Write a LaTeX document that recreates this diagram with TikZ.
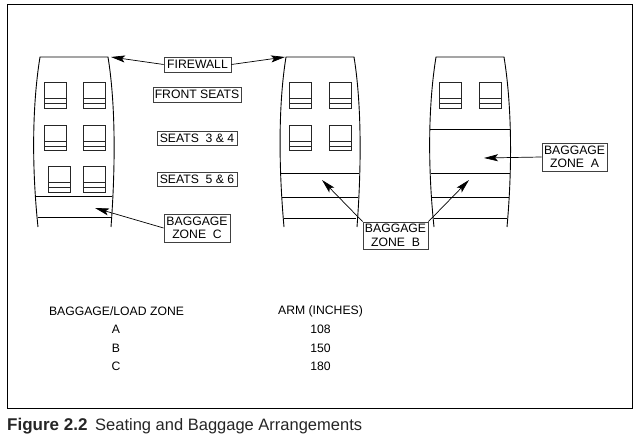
\documentclass[tikz,border=0pt]{standalone}
\usepackage{fontspec}
\setmainfont{Liberation Sans}
\usepackage{tikz}
\usetikzlibrary{arrows.meta}

\tikzset{
	label box/.style={draw=black!75, fill=white, line width=0.9pt, inner sep=0pt, align=center,
		font=\fontsize{12.2}{13.6}\selectfont},
	plain text/.style={inner sep=0pt, font=\fontsize{12.2}{14}\selectfont},
	caption text/.style={inner sep=0pt, anchor=base west, text=black!85},
	hull/.style={line width=0.9pt},
	seat/.style={line width=0.9pt, black!85},
	pointer/.style={line width=0.7pt, -{Stealth[length=14pt,width=7pt,inset=3pt]}}
}

\begin{document}
\begin{tikzpicture}[x=1pt,y=-1pt]
		\useasboundingbox (0,0) rectangle (639,438);
		\fill[white] (0,0) rectangle (639,438);

		% Outer frame.
		\draw[line width=1pt] (7,5) rectangle (632,408);

		% Left cabin.
		\draw[hull]	(38,227) .. controls (31,160) and (33,100) .. (40,57)
				-- (108,57) .. controls (115,100) and (116,160) .. (111,227);
		\draw[hull]	(36,196) -- (112,196)
				(38,217) -- (111,217);
		\draw[seat]	(44,82) rectangle (66,108) (44,98) -- (66,98) (44,103) -- (66,103)
				(83,82) rectangle (105,108) (83,98) -- (105,98) (83,103) -- (105,103)
				(44,125) rectangle (66,150) (44,141) -- (66,141) (44,146) -- (66,146)
				(83,125) rectangle (105,150) (83,141) -- (105,141) (83,146) -- (105,146)
				(48,166) rectangle (70,192) (48,182) -- (70,182) (48,187) -- (70,187)
				(83,166) rectangle (105,192) (83,182) -- (105,182) (83,187) -- (105,187);

		% Middle cabin.
		\draw[hull]	(284,227) .. controls (278,160) and (279,100) .. (286,57)
				-- (354,57) .. controls (361,100) and (362,160) .. (357,227);
		\draw[hull]	(281,173) -- (359,173)
				(282,197) -- (358,197)
				(284,218) -- (356,218);
		\draw[seat]	(289,82) rectangle (311,108) (289,98) -- (311,98) (289,103) -- (311,103)
				(329,82) rectangle (351,108) (329,98) -- (351,98) (329,103) -- (351,103)
				(289,125) rectangle (311,150) (289,141) -- (311,141) (289,146) -- (311,146)
				(329,125) rectangle (351,150) (329,141) -- (351,141) (329,146) -- (351,146);

		% Right cabin.
		\draw[hull]	(434,227) .. controls (427,160) and (429,100) .. (436,57)
				-- (504,57) .. controls (511,100) and (513,160) .. (507,227);
		\draw[hull]	(430,129) -- (510,129)
				(431,173) -- (510,173)
				(432,197) -- (509,197)
				(434,218) -- (507,218);
		\draw[seat]	(439,82) rectangle (461,108) (439,98) -- (461,98) (439,103) -- (461,103)
				(479,82) rectangle (501,108) (479,98) -- (501,98) (479,103) -- (501,103);

		% Labels.
		\node[label box, minimum width=67pt, minimum height=15pt] (firewall) at (197.5,64.5) {FIREWALL};
		\node[label box, minimum width=88pt, minimum height=15pt] (frontseats) at (197,94.5) {FRONT SEATS};
		\node[label box, minimum width=80pt, minimum height=14pt] (seatsmid) at (197,138) {SEATS\ \ 3 \& 4};
		\node[label box, minimum width=80pt, minimum height=14pt] (seatsrear) at (197,179) {SEATS\ \ 5 \& 6};
		\node[label box, minimum width=66pt, minimum height=28pt] (zonec) at (197,228) {BAGGAGE\\ZONE\ \ C};
		\node[label box, minimum width=65pt, minimum height=27pt] (zoneb) at (395.5,235.5) {BAGGAGE\\ZONE\ \ B};
		\node[label box, minimum width=65pt, minimum height=28pt] (zonea) at (574.5,157) {BAGGAGE\\ZONE\ \ A};

		% Pointers.
		\coordinate (firewallleft) at (111,57);
		\coordinate (firewallright) at (285,57);
		\coordinate (tipc) at (95,208);
		\coordinate (tipa) at (484,158);
		\coordinate (tipbmid) at (322,180);
		\coordinate (tipbright) at (469,180);
		\draw[pointer] (firewall.west) -- (firewallleft);
		\draw[pointer] (firewall.east) -- (firewallright);
		\draw[pointer] (zonec.west) -- (tipc);
		\draw[pointer] (zonea.west) -- (tipa);
		\draw[pointer] (zoneb.north west) -- (tipbmid);
		\draw[pointer] (zoneb.north east) -- (tipbright);

		% Arm table.
		\node[plain text] (armhead) at (116.5,311) {BAGGAGE/LOAD ZONE};
		\node[plain text] (zonerowa) at (116,329) {A};
		\node[plain text] (zonerowb) at (116,348) {B};
		\node[plain text] (zonerowc) at (116,366) {C};
		\node[plain text] (armtitle) at (320.5,311) {ARM (INCHES)};
		\node[plain text] (armrowa) at (320.5,329) {108};
		\node[plain text] (armrowb) at (320.5,348) {150};
		\node[plain text] (armrowc) at (320.5,366) {180};

		% Caption.
		\node[caption text, font=\fontsize{17}{19}\selectfont\bfseries] (figlabel) at (7,430) {Figure 2.2};
		\node[caption text, font=\fontsize{16.5}{19}\selectfont] (figtitle) at (95,430) {Seating and Baggage Arrangements};
	\end{tikzpicture}
\end{document}
